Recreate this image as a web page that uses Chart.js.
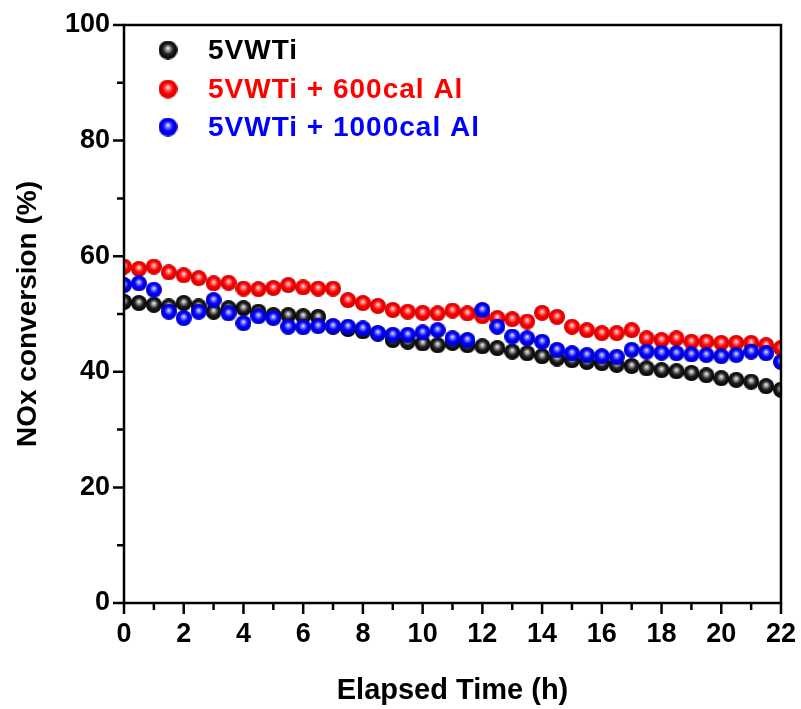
<!DOCTYPE html>
<html>
<head>
<meta charset="utf-8">
<script src="https://cdn.jsdelivr.net/npm/chart.js@4.4.1/dist/chart.umd.min.js"></script>
<style>
  body { margin: 0; background: #fff; }
  canvas { display: block; }
</style>
</head>
<body>
<canvas id="chart" width="801" height="709"></canvas>
<script>
var FONT = '"Liberation Sans", Arial, sans-serif';

// elapsed time (h)
var times = [0, 0.5, 1, 1.5, 2, 2.5, 3, 3.5, 4, 4.5, 5, 5.5, 6, 6.5, 7, 7.5, 8, 8.5, 9, 9.5, 10, 10.5,
    11, 11.5, 12, 12.5, 13, 13.5, 14, 14.5, 15, 15.5, 16, 16.5, 17, 17.5, 18, 18.5, 19, 19.5, 20, 20.5,
    21, 21.5, 22];

// NOx conversion (%)
var vwti = [52.1, 51.9, 51.6, 51.3, 51.9, 51.3, 50.4, 51.0, 51.0, 50.4, 49.8, 49.8, 49.6, 49.5, 47.8,
    47.4, 47.0, 46.6, 45.5, 45.2, 44.9, 44.6, 45.0, 44.6, 44.4, 44.1, 43.5, 43.2, 42.7,
    42.3, 42.0, 41.7, 41.5, 41.2, 41.0, 40.6, 40.3, 40.1, 39.8, 39.4, 38.9, 38.6, 38.3, 37.5, 36.9];
var vwti600 = [58.2, 57.8, 58.2, 57.2, 56.7, 56.2, 55.3, 55.4, 54.4, 54.3, 54.5, 55.0, 54.6, 54.4, 54.4,
    52.4, 51.9, 51.4, 50.7, 50.4, 50.2, 50.1, 50.6, 50.1, 49.6, 49.3, 49.1, 48.7, 50.2,
    49.5, 47.8, 47.2, 46.7, 46.7, 47.2, 45.8, 45.5, 45.8, 45.2, 45.2, 45.0, 45.0, 45.0, 44.6, 44.1];
var vwti1000 = [55.0, 55.3, 54.2, 50.4, 49.3, 50.4, 52.4, 50.1, 48.4, 49.6, 49.3, 47.8, 47.7, 47.9, 47.9,
    47.8, 47.5, 46.7, 46.4, 46.4, 46.8, 47.2, 45.8, 45.5, 50.7, 47.8, 46.1, 45.8, 45.2,
    43.8, 43.2, 42.9, 42.7, 42.6, 43.8, 43.5, 43.3, 43.2, 43.0, 42.9, 42.7, 42.9, 43.5, 43.2, 41.7];

var seriesNames = ["5VWTi", "5VWTi + 600cal Al", "5VWTi + 1000cal Al"];
var seriesColors = ["#000000", "#ff0000", "#0000ff"];

// shaded sphere used as point style
function makeBall(size, light, mid, dark) {
    var c = document.createElement("canvas");
    c.width = size;
    c.height = size;
    var g = c.getContext("2d");
    var r = size / 2;
    var grad = g.createRadialGradient(r, r * 0.8, 0, r, r, r);
    grad.addColorStop(0, "#ffffff");
    grad.addColorStop(0.18, light);
    grad.addColorStop(0.55, mid);
    grad.addColorStop(1, dark);
    g.fillStyle = grad;
    g.beginPath();
    g.arc(r, r, r, 0, Math.PI * 2);
    g.fill();
    return c;
}

var balls = [
    makeBall(16, "#b0b0b0", "#202020", "#000000"),
    makeBall(16, "#ff9090", "#ff0000", "#d00000"),
    makeBall(16, "#9090ff", "#0000ff", "#0000c0")
];
var legendBalls = [
    makeBall(19, "#b0b0b0", "#202020", "#000000"),
    makeBall(19, "#ff9090", "#ff0000", "#d00000"),
    makeBall(19, "#9090ff", "#0000ff", "#0000c0")
];

function toPoints(values) {
    return times.map(function(t, i) { return {x: t, y: values[i]}; });
}

var allSeries = [vwti, vwti600, vwti1000];
var datasets = allSeries.map(function(values, i) {
    return {
        label: seriesNames[i],
        data: toPoints(values),
        showLine: false,
        pointStyle: balls[i],
        pointRadius: 8,
        pointHoverRadius: 8,
        order: 3 - i,
        clip: 0
    };
});

var framePlugin = {
    id: "frame",
    afterDraw: function(chart) {
        var ctx = chart.ctx;
        var a = chart.chartArea;
        var xs = chart.scales.x;
        var ys = chart.scales.y;
        ctx.save();
        ctx.strokeStyle = "#000";
        ctx.lineWidth = 2.5;
        ctx.lineCap = "butt";
        ctx.strokeRect(a.left, a.top, a.right - a.left, a.bottom - a.top);
        ctx.beginPath();
        xs.ticks.forEach(function(t) {
            var px = xs.getPixelForValue(t.value);
            var len = t.value % 2 === 0 ? 11 : 7;
            ctx.moveTo(px, a.bottom);
            ctx.lineTo(px, a.bottom + len);
        });
        ys.ticks.forEach(function(t) {
            var py = ys.getPixelForValue(t.value);
            var len = t.value % 20 === 0 ? 11 : 7;
            ctx.moveTo(a.left, py);
            ctx.lineTo(a.left - len, py);
        });
        ctx.stroke();

        // legend inside the plot
        ctx.font = "bold 28px " + FONT;
        ctx.letterSpacing = "1px";
        ctx.textBaseline = "middle";
        ctx.textAlign = "left";
        var rows = [50, 89, 127];
        for (var i = 0; i < seriesNames.length; i++) {
            var b = legendBalls[i];
            ctx.drawImage(b, 168 - b.width / 2, rows[i] - b.height / 2);
            ctx.fillStyle = seriesColors[i];
            ctx.fillText(seriesNames[i], 208, rows[i] + 1);
        }
        ctx.restore();
    }
};

function noPadding(scale) {
    scale.paddingTop = 0;
    scale.paddingBottom = 0;
    scale.paddingLeft = 0;
    scale.paddingRight = 0;
}

var tickFont = {family: FONT, size: 27, weight: "bold"};

new Chart(document.getElementById("chart"), {
    type: "scatter",
    data: {datasets: datasets},
    options: {
        responsive: false,
        animation: false,
        devicePixelRatio: 1,
        layout: {padding: {top: 25, right: 20, left: 0, bottom: 0}},
        plugins: {
            legend: {display: false},
            tooltip: {enabled: false}
        },
        scales: {
            x: {
                type: "linear",
                min: 0,
                max: 22,
                grid: {display: false, drawTicks: false},
                border: {display: false},
                ticks: {
                    stepSize: 1,
                    autoSkip: false,
                    maxRotation: 0,
                    padding: 15,
                    color: "#000",
                    font: tickFont,
                    callback: function(v) { return v % 2 === 0 ? v : ""; }
                },
                title: {
                    display: true,
                    text: "Elapsed Time (h)",
                    color: "#000",
                    font: {family: FONT, size: 29, weight: "bold"},
                    padding: {top: 0, bottom: 1}
                },
                afterFit: function(scale) {
                    scale.height = 106;
                    noPadding(scale);
                }
            },
            y: {
                min: 0,
                max: 100,
                grid: {display: false, drawTicks: false},
                border: {display: false},
                ticks: {
                    stepSize: 10,
                    autoSkip: false,
                    padding: 14,
                    color: "#000",
                    font: tickFont,
                    callback: function(v) { return v % 20 === 0 ? v : ""; }
                },
                title: {
                    display: true,
                    text: "NOx conversion (%)",
                    color: "#000",
                    font: {family: FONT, size: 28, weight: "bold"},
                    padding: {top: 11, bottom: 0}
                },
                afterFit: function(scale) {
                    scale.width = 124;
                    noPadding(scale);
                }
            }
        }
    },
    plugins: [framePlugin]
});
</script>
</body>
</html>
